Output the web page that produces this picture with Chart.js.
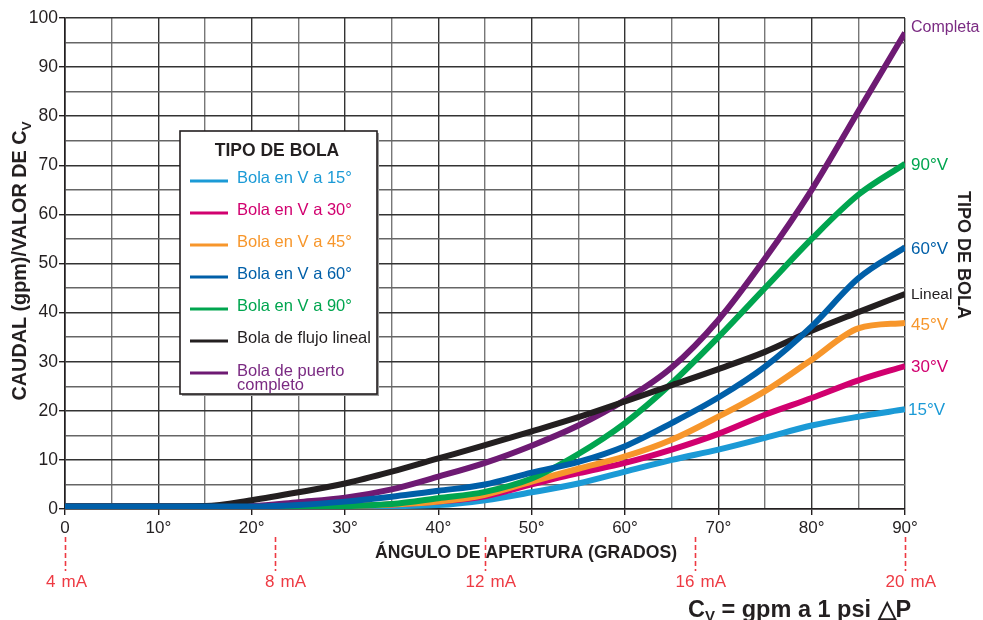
<!DOCTYPE html>
<html>
<head>
<meta charset="utf-8">
<script src="https://cdn.jsdelivr.net/npm/chart.js@4.4.0/dist/chart.umd.min.js"></script>
<style>
  html, body { margin: 0; padding: 0; background: #fff; }
  canvas { display: block; }
</style>
</head>
<body>
<canvas id="cvChart" width="983" height="620"></canvas>
<script>
// opening angle (degrees)
var angles = [0, 5, 10, 15, 20, 25, 30, 35, 40, 45, 50, 55, 60, 65, 70, 75, 80, 85, 90];

// Cv values
var bolaV15   = [0.5, 0.5, 0.5, 0.5, 0.5, 0.5, 0.5, 0.6, 0.8, 1.8, 3.4, 5.2, 7.6, 10, 12.1, 14.5, 17, 18.8, 20.3];
var bolaV30   = [0.5, 0.5, 0.5, 0.5, 0.5, 0.5, 0.6, 0.9, 1.5, 2.6, 5, 7.3, 9.4, 12.1, 15.3, 19.2, 22.6, 26.2, 29.1];
var bolaV45   = [0.5, 0.5, 0.5, 0.5, 0.5, 0.5, 0.6, 0.9, 1.5, 2.9, 5.6, 8.2, 10.7, 14.1, 18.8, 24, 30.4, 36.8, 37.9];
var bolaV60   = [0.5, 0.5, 0.5, 0.5, 0.5, 0.8, 1.5, 2.5, 3.7, 5, 7.4, 9.6, 12.8, 17.5, 22.7, 29, 37.2, 47, 53.3];
var bolaV90   = [0.5, 0.5, 0.5, 0.5, 0.5, 0.5, 0.6, 1, 2.2, 3.5, 6.2, 11.2, 17.5, 25.6, 35, 45, 55, 64, 70.3];
var bolaLineal = [0.5, 0.5, 0.5, 0.6, 1.8, 3.4, 5.2, 7.6, 10.3, 13, 15.8, 18.7, 21.9, 25.2, 28.5, 32, 36.3, 40.1, 43.8];
var bolaCompleta = [0.5, 0.5, 0.5, 0.5, 0.6, 1.4, 2.3, 4, 6.6, 9.4, 12.9, 17, 22.2, 28.8, 38.5, 51, 65, 81, 97];

var seriesLabels = [["Bola en V a 15°"], ["Bola en V a 30°"], ["Bola en V a 45°"], ["Bola en V a 60°"],
                    ["Bola en V a 90°"], ["Bola de flujo lineal"], ["Bola de puerto", "completo"]];
var endLabels = ["15°V", "30°V", "45°V", "60°V", "90°V", "Lineal", "Completa"];
var seriesColors = ["#1b9ad6", "#d1006f", "#f7962b", "#005fa8", "#00a54f", "#231f20", "#6e1a73"];
var textColors   = ["#1b9ad6", "#d1006f", "#f7962b", "#005fa8", "#00a54f", "#231f20", "#7a2a82"];
var drawOrder = [6, 5, 4, 0, 3, 1, 2];

// current signal marks under the x axis
var maAngles = [0, 22.5, 45, 67.5, 90];
var maLabels = ["4", "8", "12", "16", "20"];

var FONT = '"Liberation Sans", Arial, Helvetica, sans-serif';
var INK = "#231f20";
var RED = "#ee3a43";

var allSeries = [bolaV15, bolaV30, bolaV45, bolaV60, bolaV90, bolaLineal, bolaCompleta];
var datasets = allSeries.map(function(vals, i) {
  return {
    label: seriesLabels[i].join(" "),
    data: vals.map(function(v, j) { return { x: angles[j], y: v }; }),
    borderColor: seriesColors[i],
    borderWidth: 6,
    pointRadius: 0,
    fill: false,
    cubicInterpolationMode: "monotone",
    order: drawOrder[i]
  };
});

function subText(ctx, x, y, main, sub, font, subFont, subDy) {
  ctx.font = font;
  ctx.fillText(main, x, y);
  var w = ctx.measureText(main).width;
  ctx.font = subFont;
  ctx.fillText(sub, x + w, y + subDy);
  return w + ctx.measureText(sub).width;
}

var decorations = {
  id: "decorations",
  afterDraw: function(chart) {
    var ctx = chart.ctx, area = chart.chartArea;
    var xs = chart.scales.x, ys = chart.scales.y;
    ctx.save();

    // y axis title with subscript
    ctx.save();
    ctx.translate(26, 261);
    ctx.rotate(-Math.PI / 2);
    ctx.fillStyle = INK;
    ctx.textAlign = "left";
    ctx.textBaseline = "alphabetic";
    var f1 = "bold 19.8px " + FONT, f2 = "bold 13.5px " + FONT;
    ctx.font = f1;
    var wMain = ctx.measureText("CAUDAL (gpm)/VALOR DE C").width;
    ctx.font = f2;
    var wSub = ctx.measureText("V").width;
    subText(ctx, -(wMain + wSub) / 2, 0, "CAUDAL (gpm)/VALOR DE C", "V", f1, f2, 5);
    ctx.restore();

    // x axis title
    ctx.fillStyle = INK;
    ctx.font = "bold 17.6px " + FONT;
    ctx.textAlign = "center";
    ctx.textBaseline = "alphabetic";
    ctx.fillText("ÁNGULO DE APERTURA (GRADOS)", 526, 558);

    // mA marks
    ctx.strokeStyle = RED;
    ctx.lineWidth = 1.6;
    ctx.setLineDash([5, 3]);
    ctx.fillStyle = RED;
    ctx.font = "17px " + FONT;
    maAngles.forEach(function(a, i) {
      var px = Math.round(xs.getPixelForValue(a)) + 0.5;
      ctx.beginPath();
      ctx.moveTo(px, 537);
      ctx.lineTo(px, 571);
      ctx.stroke();
      var dx = i === 0 ? -9 : 0;
      ctx.textAlign = "right";
      ctx.fillText(maLabels[i], px - 1 + dx, 587);
      ctx.textAlign = "left";
      ctx.fillText("mA", px + 5 + dx, 587);
    });
    ctx.setLineDash([]);

    // formula
    ctx.fillStyle = INK;
    ctx.textAlign = "left";
    var w = subText(ctx, 688, 617, "C", "V", "bold 23.5px " + FONT, "bold 15px " + FONT, 4);
    ctx.font = "bold 23.5px " + FONT;
    ctx.fillText(" = gpm a 1 psi \u25B3P", 688 + w, 617);

    // end-of-line labels
    ctx.textAlign = "left";
    ctx.textBaseline = "middle";
    allSeries.forEach(function(vals, i) {
      var py = ys.getPixelForValue(vals[vals.length - 1]);
      var size = i === 6 ? 16 : (i === 5 ? 15.5 : 17);
      var dy = i === 6 ? -5 : (i === 2 || i === 3 ? 2 : 1);
      ctx.font = size + "px " + FONT;
      ctx.fillStyle = textColors[i];
      ctx.fillText(endLabels[i], area.right + (i === 0 ? 3 : 6), py + dy);
    });

    // right title
    ctx.save();
    ctx.translate(958, 255);
    ctx.rotate(Math.PI / 2);
    ctx.fillStyle = INK;
    ctx.font = "bold 18px " + FONT;
    ctx.textAlign = "center";
    ctx.textBaseline = "alphabetic";
    ctx.fillText("TIPO DE BOLA", 0, 0);
    ctx.restore();

    // legend box
    var bx = 180, by = 131, bw = 197, bh = 263;
    ctx.fillStyle = "#9a9a9a";
    ctx.fillRect(bx + 2, by + 2, bw, bh);
    ctx.fillStyle = "#fff";
    ctx.fillRect(bx, by, bw, bh);
    ctx.strokeStyle = INK;
    ctx.lineWidth = 1.6;
    ctx.strokeRect(bx, by, bw, bh);
    ctx.fillStyle = INK;
    ctx.font = "bold 17.5px " + FONT;
    ctx.textAlign = "center";
    ctx.textBaseline = "alphabetic";
    ctx.fillText("TIPO DE BOLA", 277, 156);
    ctx.textAlign = "left";
    ctx.textBaseline = "middle";
    ctx.font = "16.5px " + FONT;
    seriesLabels.forEach(function(lines, i) {
      var ly = 181 + i * 32;
      ctx.strokeStyle = seriesColors[i];
      ctx.lineWidth = 3;
      ctx.beginPath();
      ctx.moveTo(190, ly);
      ctx.lineTo(228, ly);
      ctx.stroke();
      ctx.fillStyle = textColors[i];
      if (lines.length === 1) {
        ctx.fillText(lines[0], 237, ly - 3);
      } else {
        ctx.fillText(lines[0], 237, ly - 2);
        ctx.fillText(lines[1], 237, ly + 12);
      }
    });

    ctx.restore();
  }
};

function isMajor(v) { return Math.abs(v % 10) < 1e-6; }

new Chart(document.getElementById("cvChart"), {
  type: "line",
  data: { datasets: datasets },
  options: {
    responsive: false,
    animation: false,
    layout: { padding: { left: 0, top: 18, right: 78, bottom: 0 } },
    plugins: { legend: { display: false }, tooltip: { enabled: false } },
    scales: {
      x: {
        type: "linear",
        min: 0, max: 90,
        afterFit: function(s) { s.height = 111; },
        ticks: {
          stepSize: 5, autoSkip: false, maxRotation: 0, padding: 3,
          color: INK, font: { family: FONT, size: 17 },
          callback: function(v) { return isMajor(v) ? (v === 0 ? "0" : v + "°") : ""; }
        },
        grid: {
          lineWidth: 1.4, tickLength: 6,
          color: function(c) { return isMajor(c.tick.value) ? "#333" : "#777"; },
          tickColor: function(c) { return isMajor(c.tick.value) ? INK : "rgba(0,0,0,0)"; }
        },
        border: { color: INK, width: 1.6 }
      },
      y: {
        min: 0, max: 100,
        afterFit: function(s) { s.width = 65; },
        ticks: {
          stepSize: 5, autoSkip: false, padding: 1,
          color: INK, font: { family: FONT, size: 17.5 },
          callback: function(v) { return isMajor(v) ? v : ""; }
        },
        grid: {
          lineWidth: 1.4, tickLength: 6,
          color: function(c) { return isMajor(c.tick.value) ? "#333" : "#666"; },
          tickColor: function(c) { return isMajor(c.tick.value) ? INK : "rgba(0,0,0,0)"; }
        },
        border: { color: INK, width: 1.6 }
      }
    }
  },
  plugins: [decorations]
});
</script>
</body>
</html>
